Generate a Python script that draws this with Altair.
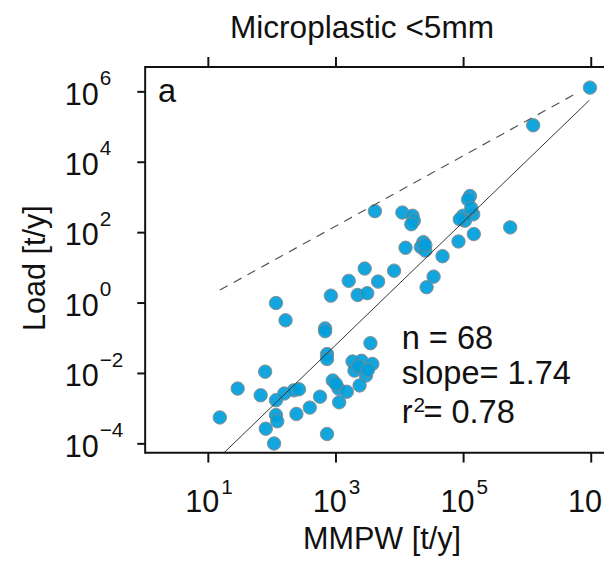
import altair as alt
import pandas as pd

title_text = "Microplastic <5mm"
x_title = "MMPW [t/y]"
y_title = "Load [t/y]"
panel_label = "a"

# log10 values
log_mmpw = [6.98, 6.09, 3.61, 4.04, 4.20, 4.22, 4.18, 5.10, 5.07, 5.15,
            4.99, 5.02, 4.94, 5.73, 5.16, 4.92, 4.09, 4.37, 4.33, 4.40,
            4.67, 4.53, 4.42, 3.45, 3.20, 3.66, 3.91, 3.34, 3.49, 2.92,
            2.06, 2.21, 2.83, 2.83, 3.54, 2.86, 2.86, 3.26, 3.40, 3.57,
            3.29, 3.47, 3.37, 2.95, 3.04, 3.17, 3.05, 2.75, 2.59, 2.38,
            1.89, 1.46, 1.82, 2.06, 2.19, 2.34, 2.42, 1.18, 2.06, 2.08,
            1.90, 2.86, 2.03, 3.35, 3.50, 5.12, 3.00, 4.40]
log_load = [6.12, 5.05, 2.61, 2.57, 2.48, 2.34, 2.24, 3.04, 2.94, 2.52,
            2.48, 2.34, 2.38, 2.15, 1.96, 1.75, 1.57, 1.73, 1.59, 1.49,
            1.33, 0.75, 0.45, 0.98, 0.63, 0.61, 0.92, 0.23, 0.28, 0.21,
            0.00, -0.49, -0.72, -0.80, -1.14, -1.45, -1.59, -1.66, -1.64, -1.73,
            -1.92, -2.06, -2.34, -2.20, -2.43, -2.52, -2.82, -2.66, -2.97, -3.15,
            -1.95, -2.43, -2.62, -2.76, -2.57, -2.48, -2.45, -3.25, -3.18, -3.36,
            -3.57, -3.72, -3.99, -1.80, -1.90, 2.70, -2.30, 1.65]

x_tick_exp = [1, 3, 5, 7]
y_tick_exp = [-4, -2, 0, 2, 4, 6]

fit_log_x = [1.247, 6.97]
fit_log_y = [-4.25, 5.76]
ref_log_x = [1.18, 6.76]
ref_log_y = [0.37, 5.95]

stat_n = "n = 68"
stat_slope = "slope= 1.74"
stat_r_base = "r"
stat_r_exp = "2"
stat_r_val = "= 0.78"

FONT = "Liberation Sans"
INK = "#111"
W, H = 465, 391
XDOM = [10 ** 0.01, 10 ** 7.2]
YDOM = [10 ** -4.252, 10 ** 6.709]

xs = alt.Scale(type="log", domain=XDOM, nice=False)
ys = alt.Scale(type="log", domain=YDOM, nice=False)

def X(f):
    return alt.X(f, type="quantitative", scale=xs, axis=None)

def Y(f):
    return alt.Y(f, type="quantitative", scale=ys, axis=None)

pts = pd.DataFrame({"mmpw": [10 ** v for v in log_mmpw],
                    "load": [10 ** v for v in log_load]})
fit = pd.DataFrame({"mmpw": [10 ** v for v in fit_log_x],
                    "load": [10 ** v for v in fit_log_y]})
ref = pd.DataFrame({"mmpw": [10 ** v for v in ref_log_x],
                    "load": [10 ** v for v in ref_log_y]})

def sup(e):
    return str(e).replace("-", "\u2212")

xt = pd.DataFrame({"tv": [10 ** e for e in x_tick_exp],
                   "exp": [sup(e) for e in x_tick_exp]})
yt = pd.DataFrame({"tv": [10 ** e for e in y_tick_exp],
                   "exp": [sup(e) for e in y_tick_exp]})
one = pd.DataFrame({"t": [0]})

points = alt.Chart(pts).mark_circle(
    size=185, color="#009fdc", opacity=0.92, stroke="#858585", strokeWidth=1
).encode(x=X("mmpw"), y=Y("load"))

fit_line = alt.Chart(fit).mark_line(color="#333", strokeWidth=1).encode(
    x=X("mmpw"), y=Y("load"))

ref_line = alt.Chart(ref).mark_line(color="#555", strokeWidth=1.2,
                                    strokeDash=[9, 7]).encode(
    x=X("mmpw"), y=Y("load"))

# frame lines and tick marks
def rule(df, **enc):
    return alt.Chart(df).mark_rule(color=INK, strokeWidth=2).encode(**enc)

frame_bottom = rule(one, x=alt.value(0), x2=alt.value(W + 5), y=alt.value(H))
frame_top = rule(one, x=alt.value(0), x2=alt.value(W + 5), y=alt.value(0))
frame_left = rule(one, x=alt.value(0), y=alt.value(-1), y2=alt.value(H + 1))
ticks_bottom = rule(xt, x=X("tv"), y=alt.value(H), y2=alt.value(H + 10))
ticks_top = rule(xt, x=X("tv"), y=alt.value(-10), y2=alt.value(0))
ticks_left = rule(yt, y=Y("tv"), x=alt.value(-8), x2=alt.value(0))

def txt(df, size, **kw):
    return alt.Chart(df).mark_text(font=FONT, fontSize=size, color=INK,
                                   baseline="alphabetic", **kw)

x_lab10 = txt(xt, 31, align="right", dx=11).encode(
    x=X("tv"), y=alt.value(451), text=alt.value("10"))
x_labexp = txt(xt, 21, align="left", dx=13).encode(
    x=X("tv"), y=alt.value(433), text="exp:N")
y_lab10 = txt(yt, 31, align="right", dy=13).encode(
    y=Y("tv"), x=alt.value(-47), text=alt.value("10"))
y_labexp = txt(yt, 21, align="left", dy=-7).encode(
    y=Y("tv"), x=alt.value(-46), text="exp:N")

x_title_mark = txt(one, 31, align="center").encode(
    x=alt.value(240), y=alt.value(489), text=alt.value(x_title))
y_title_mark = txt(one, 31, align="center", angle=270).encode(
    x=alt.value(-102), y=alt.value(204), text=alt.value(y_title))
title_mark = txt(one, 32, align="left").encode(
    x=alt.value(86), y=alt.value(-29), text=alt.value(title_text))
panel_mark = txt(one, 33, align="left").encode(
    x=alt.value(13), y=alt.value(36), text=alt.value(panel_label))
n_mark = txt(one, 33, align="left").encode(
    x=alt.value(260), y=alt.value(286), text=alt.value(stat_n))
slope_mark = txt(one, 33, align="left").encode(
    x=alt.value(260), y=alt.value(321), text=alt.value(stat_slope))
r_mark = txt(one, 33, align="left").encode(
    x=alt.value(260), y=alt.value(361), text=alt.value(stat_r_base))
r2_mark = txt(one, 21, align="left").encode(
    x=alt.value(272), y=alt.value(350), text=alt.value(stat_r_exp))
rv_mark = txt(one, 33, align="left").encode(
    x=alt.value(282), y=alt.value(361), text=alt.value(stat_r_val))

chart = alt.layer(
    points, ref_line, fit_line,
    frame_bottom, frame_top, frame_left, ticks_bottom, ticks_top, ticks_left,
    x_lab10, x_labexp, y_lab10, y_labexp, x_title_mark, y_title_mark,
    title_mark, panel_mark, n_mark, slope_mark, r_mark, r2_mark, rv_mark,
).properties(
    width=W, height=H,
    background="white",
    autosize=alt.AutoSizeParams(type="none"),
    padding={"left": 139, "top": 56, "right": 0, "bottom": 102},
).configure_view(stroke=None)

chart.save("out.html", embed_options={"renderer": "svg", "actions": False})
